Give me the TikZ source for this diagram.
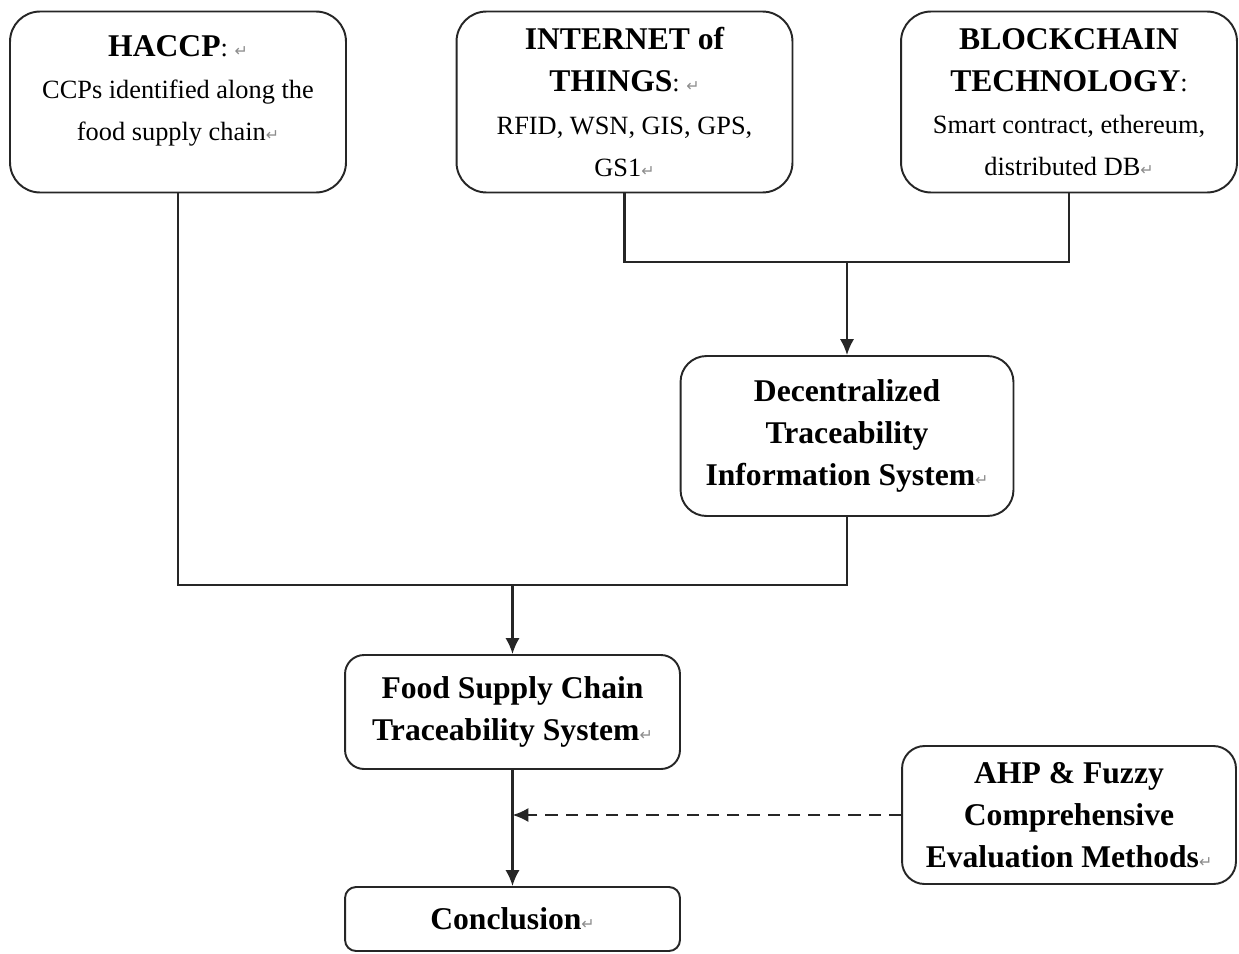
\documentclass[tikz,border=0pt]{standalone}
\usepackage{fontspec}
\setmainfont{Liberation Serif}
\newfontfamily\markfont{DejaVu Sans}
\usepackage{tikz}
\usetikzlibrary{arrows.meta,positioning}
\newcommand{\crmark}{{\markfont\fontsize{9}{9}\selectfont\textcolor{black!45}{↵}}}
\newcommand{\hd}[1]{{\fontsize{18}{24}\selectfont\bfseries #1}}

\begin{document}
\begin{tikzpicture}[
    x=0.02cm, y=-0.02cm,
    font=\fontsize{15}{24}\selectfont,
    box/.style={rectangle, draw=black!85, fill=white, line width=1.1pt, align=center, inner sep=0pt},
    topbox/.style={box, rounded corners=0.6cm, minimum width=6.72cm, minimum height=3.62cm},
    link/.style={line width=1.2pt, black!85},
    flow/.style={link, -{Latex[length=9pt,width=8pt]}},
    hint/.style={flow, dash pattern=on 7pt off 4.5pt}
]
\useasboundingbox (0,0) rectangle (1239,953);
% ----- top row: inputs -----
\node[topbox] (haccp) at (178,102) {\hd{HACCP}: \crmark\\CCPs identified along the\\food supply chain\crmark\\[-8pt]\mbox{}};
\node[topbox] (iot)   at (624.5,102) {\hd{INTERNET of}\\\hd{THINGS}: \crmark\\RFID, WSN, GIS, GPS,\\GS1\crmark};
\node[topbox] (chain) at (1069,102) {\hd{BLOCKCHAIN}\\\hd{TECHNOLOGY}:\\Smart contract, ethereum,\\distributed DB\crmark};
% ----- middle -----
\node[box, rounded corners=0.52cm, minimum width=6.66cm, minimum height=3.2cm] (dtis) at (847,436) {\hd{Decentralized}\\\hd{Traceability}\\\hd{Information System}\crmark};
\node[box, rounded corners=0.38cm, minimum width=6.7cm, minimum height=2.28cm] (fscts) at (512.5,712) {\hd{Food Supply Chain}\\\hd{Traceability System}\crmark};
\node[box, rounded corners=0.45cm, minimum width=6.68cm, minimum height=2.76cm] (ahp) at (1069,815) {\hd{AHP \& Fuzzy}\\\hd{Comprehensive}\\\hd{Evaluation Methods}\crmark};
\node[box, rounded corners=0.22cm, minimum width=6.7cm, minimum height=1.28cm] (concl) at (512.5,919) {\hd{Conclusion}\crmark};
% ----- joins -----
\coordinate (topjoin) at (847,262);
\coordinate (midjoin) at (512.5,585);
\coordinate (evalhit) at (512.5,815);
\draw[link] (iot.south) |- (topjoin) -| (chain.south);
\draw[flow] (topjoin) -- (dtis.north);
\draw[link] (haccp.south) |- (midjoin) -| (dtis.south);
\draw[flow] (midjoin) -- (fscts.north);
\draw[flow] (fscts.south) -- (concl.north);
\draw[hint] (ahp.west) -- (evalhit);
\end{tikzpicture}
\end{document}
